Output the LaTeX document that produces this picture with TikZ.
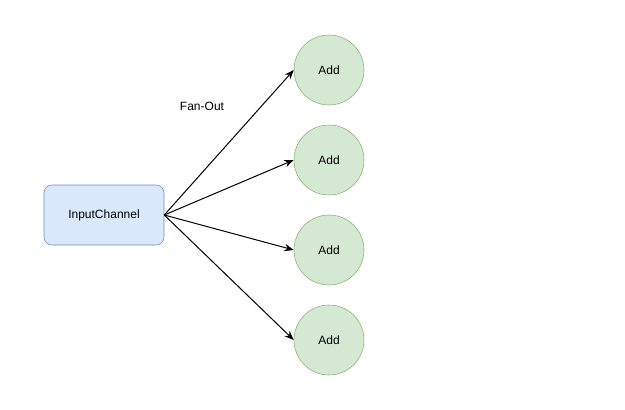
\documentclass[tikz,border=0pt]{standalone}
\usepackage{fontspec}
\setmainfont{Liberation Sans}
\usepackage{xcolor}
\usepackage{tikz}
\usetikzlibrary{arrows.meta}
\definecolor{chanfill}{HTML}{DAE8FC}
\definecolor{chanline}{HTML}{6C8EBF}
\definecolor{addfill}{HTML}{D5E8D4}
\definecolor{addline}{HTML}{82B366}

\begin{document}
\begin{tikzpicture}[x=0.75pt,y=-0.75pt,
  chan/.style={draw=chanline,fill=chanfill,rounded corners=6pt,minimum width=90pt,
               minimum height=45pt,align=center,font=\fontsize{9}{11}\selectfont},
  add/.style={circle,draw=addline,fill=addfill,minimum size=52.5pt,inner sep=0pt,
              font=\fontsize{9}{11}\selectfont},
  arr/.style={-{Stealth[length=7pt,width=5.5pt]},line width=0.75pt,black}]
  \useasboundingbox (0,0) rectangle (625,410);
  \node[chan](IN) at (104,215){InputChannel};
  \node[add](A1) at (329,70) {Add};
  \node[add](A2) at (329,160){Add};
  \node[add](A3) at (329,250){Add};
  \node[add](A4) at (329,340){Add};
  \node[font=\fontsize{9}{11}\selectfont](FO) at (202,106){Fan-Out};
  \draw[arr](IN.east)--(A1.west); \draw[arr](IN.east)--(A2.west);
  \draw[arr](IN.east)--(A3.west); \draw[arr](IN.east)--(A4.west);
\end{tikzpicture}
\end{document}
